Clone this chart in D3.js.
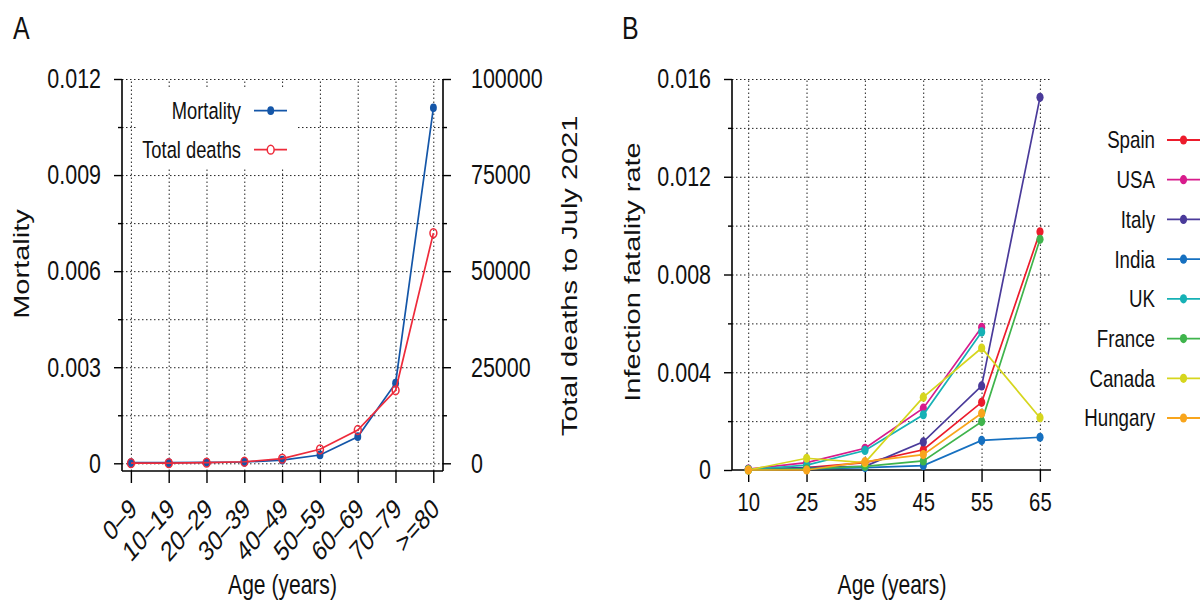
<!DOCTYPE html>
<html>
<head>
<meta charset="utf-8">
<script src="https://cdn.jsdelivr.net/npm/d3@7"></script>
<style>
  body { margin: 0; background: #fff; }
  svg { display: block; }
</style>
</head>
<body>
<svg id="chart" width="1204" height="602"></svg>
<script>
// panel A data
const ageGroups = ["0–9", "10–19", "20–29", "30–39", "40–49", "50–59", "60–69", "70–79", ">=80"];
const mortality = [0.00002, 0.00002, 0.00003, 0.00004, 0.0001, 0.00026, 0.00083, 0.0025, 0.0111];
const totalDeaths = [20, 40, 150, 400, 1200, 3640, 8670, 19000, 59900];
const mortTicks = [0, 0.003, 0.006, 0.009, 0.012];
const mortMinor = [0.0015, 0.0045, 0.0075, 0.0105];
const deathTicks = [0, 25000, 50000, 75000, 100000];
const deathMinor = [12500, 37500, 62500, 87500];

// panel B data
const ifrAges = ["10", "25", "35", "45", "55", "65"];
const countries = ["Spain", "USA", "Italy", "India", "UK", "France", "Canada", "Hungary"];
const countryColors = ["#ec1c2c", "#d81b8c", "#4a3a9a", "#1670c0", "#16b1b5", "#3fb44c", "#d6d61e", "#f8a51c"];
const spainIfr = [0.00002, 0.0001, 0.0003, 0.00083, 0.00277, 0.00975];
const usaIfr = [0.00004, 0.0003, 0.00089, 0.00253, 0.00584, null];
const italyIfr = [0.00003, 0.0001, 0.00015, 0.00115, 0.00344, 0.01525];
const indiaIfr = [0.0, 0.00005, 0.0001, 0.00018, 0.00121, 0.00134];
const ukIfr = [0.00002, 0.0002, 0.0008, 0.00226, 0.00565, null];
const franceIfr = [0.0, 0.00005, 0.00015, 0.00037, 0.00198, 0.00944];
const canadaIfr = [0.0, 0.00048, 0.0003, 0.00298, 0.00499, 0.00214];
const hungaryIfr = [0.0, 0.0, 0.00034, 0.00063, 0.00232, null];
const ifrSeries = [spainIfr, usaIfr, italyIfr, indiaIfr, ukIfr, franceIfr, canadaIfr, hungaryIfr];
const ifrTicks = [0, 0.004, 0.008, 0.012, 0.016];
const ifrMinor = [0.002, 0.006, 0.010, 0.014];

const FONT = "'Liberation Sans', Arial, Helvetica, sans-serif";
// the whole figure is squeezed horizontally, like the source
const SX = 0.78;
const K = 1 / SX;

const svg = d3.select("#chart");
svg.append("rect").attr("width", 1204).attr("height", 602).attr("fill", "#fff");
const root = svg.append("g").attr("transform", `scale(${SX},1)`).attr("font-family", FONT);

function dotted(sel) {
    sel.selectAll("line")
        .attr("stroke", "#222")
        .attr("stroke-width", 1)
        .attr("stroke-dasharray", "1.5 2.5")
        .attr("vector-effect", "non-scaling-stroke");
    sel.select(".domain").remove();
}

function styleAxis(sel, size) {
    sel.attr("font-family", FONT).attr("font-size", size);
    sel.select(".domain").remove();
    sel.selectAll("line").attr("stroke", "#000").attr("stroke-width", 1.4).attr("vector-effect", "non-scaling-stroke");
    sel.selectAll("text").attr("fill", "#111");
}

function solid(g, x1, y1, x2, y2) {
    g.append("line")
        .attr("x1", x1).attr("y1", y1).attr("x2", x2).attr("y2", y2)
        .attr("stroke", "#000").attr("stroke-width", 1.6)
        .attr("vector-effect", "non-scaling-stroke");
}

// ---------------- panel A ----------------
const A = root.append("g");
const xA = d3.scalePoint().domain(ageGroups).range([131 * K, 433.4 * K]);
const yMort = d3.scaleLinear().domain([0, 0.012]).range([463.3, 79]);
const yDeaths = d3.scaleLinear().domain([0, 100000]).range([463.3, 79]);
const aLeft = 122 * K, aRight = 443 * K, aBottom = 471, aTop = 79;

A.append("g").attr("transform", `translate(${aLeft},0)`)
    .call(d3.axisLeft(yMort).tickValues(mortTicks.concat(mortMinor)).tickSize(-(aRight - aLeft)).tickFormat(""))
    .call(dotted);
A.append("g").attr("transform", `translate(0,${aBottom})`)
    .call(d3.axisBottom(xA).tickSize(-(aBottom - aTop)).tickFormat(""))
    .call(dotted);

// legend box hides the grid under it
A.append("rect")
    .attr("x", 136 * K).attr("y", 89).attr("width", (297 - 136) * K).attr("height", 79)
    .attr("fill", "#fff");

A.append("g").attr("transform", `translate(${aLeft},0)`)
    .call(d3.axisLeft(yMort).tickValues(mortTicks).tickSize(8 * K).tickPadding(13 * K)
        .tickFormat(d => d === 0 ? "0" : d3.format(".3f")(d)))
    .call(styleAxis, 27.5);
A.append("g").attr("transform", `translate(${aLeft},0)`)
    .call(d3.axisLeft(yMort).tickValues(mortMinor).tickSize(4 * K).tickFormat(""))
    .call(styleAxis, 27.5);
A.append("g").attr("transform", `translate(${aRight},0)`)
    .call(d3.axisRight(yDeaths).tickValues(deathTicks).tickSize(8 * K).tickPadding(20 * K)
        .tickFormat(d3.format("d")))
    .call(styleAxis, 27.5);
A.append("g").attr("transform", `translate(${aRight},0)`)
    .call(d3.axisRight(yDeaths).tickValues(deathMinor).tickSize(4 * K).tickFormat(""))
    .call(styleAxis, 27.5);
const axA = A.append("g").attr("transform", `translate(0,${aBottom})`)
    .call(d3.axisBottom(xA).tickSize(12).tickPadding(0))
    .call(styleAxis, 28);
axA.selectAll("text")
    .attr("text-anchor", "end")
    .attr("y", null).attr("dy", null)
    .attr("transform", `translate(${7 * K},40) rotate(-42)`);

solid(A, aLeft, aTop, aLeft, aBottom);
solid(A, aRight, aTop, aRight, aBottom);
solid(A, aLeft, aBottom, aRight, aBottom);

const mortLine = d3.line().x((d, i) => xA(ageGroups[i])).y(d => yMort(d));
const deathLine = d3.line().x((d, i) => xA(ageGroups[i])).y(d => yDeaths(d));
const mortColor = "#1456a8", deathColor = "#ee2b3b";

A.append("path").datum(mortality).attr("d", mortLine)
    .attr("fill", "none").attr("stroke", mortColor).attr("stroke-width", 1.7).attr("vector-effect", "non-scaling-stroke");
A.selectAll(".mdot").data(mortality).join("circle")
    .attr("cx", (d, i) => xA(ageGroups[i])).attr("cy", d => yMort(d)).attr("r", 4.4)
    .attr("fill", mortColor);
A.append("path").datum(totalDeaths).attr("d", deathLine)
    .attr("fill", "none").attr("stroke", deathColor).attr("stroke-width", 1.7).attr("vector-effect", "non-scaling-stroke");
A.selectAll(".ddot").data(totalDeaths).join("circle")
    .attr("cx", (d, i) => xA(ageGroups[i])).attr("cy", d => yDeaths(d)).attr("r", 4.4)
    .attr("fill", "none").attr("stroke", deathColor).attr("stroke-width", 1.5).attr("vector-effect", "non-scaling-stroke");

// legend A
const legA = [
    {name: "Mortality", color: mortColor, filled: true, y: 110.7},
    {name: "Total deaths", color: deathColor, filled: false, y: 149.7},
];
legA.forEach(e => {
    A.append("text").attr("x", 241 * K).attr("y", e.y).attr("dy", "0.35em")
        .attr("text-anchor", "end").attr("font-size", 23.5).attr("fill", "#111").text(e.name);
    A.append("line").attr("x1", 254 * K).attr("x2", 287 * K).attr("y1", e.y).attr("y2", e.y)
        .attr("stroke", e.color).attr("stroke-width", 1.7).attr("vector-effect", "non-scaling-stroke");
    A.append("circle").attr("cx", 270.7 * K).attr("cy", e.y).attr("r", 4.4)
        .attr("fill", e.filled ? e.color : "#fff").attr("stroke", e.filled ? "none" : e.color)
        .attr("stroke-width", 1.5).attr("vector-effect", "non-scaling-stroke");
});

A.append("text").attr("x", 13 * K).attr("y", 39).attr("font-size", 32).attr("fill", "#111").text("A");
A.append("text").attr("transform", `translate(${29 * K},264) rotate(-90)`)
    .attr("text-anchor", "middle").attr("font-size", 29).attr("fill", "#111").text("Mortality");
A.append("text").attr("transform", `translate(${577 * K},276) rotate(-90)`)
    .attr("text-anchor", "middle").attr("font-size", 29).attr("fill", "#111").text("Total deaths to July 2021");
A.append("text").attr("x", 282.5 * K).attr("y", 594).attr("text-anchor", "middle")
    .attr("font-size", 27).attr("fill", "#111").text("Age (years)");

// ---------------- panel B ----------------
const B = root.append("g");
const xB = d3.scalePoint().domain(ifrAges).range([748.3 * K, 1040 * K]);
const yB = d3.scaleLinear().domain([0, 0.016]).range([470, 79]);
const bLeft = 732 * K, bRight = 1051 * K, bBottom = 470, bTop = 79;

B.append("g").attr("transform", `translate(${bLeft},0)`)
    .call(d3.axisLeft(yB).tickValues(ifrTicks.concat(ifrMinor).filter(d => d > 0)).tickSize(-(bRight - bLeft)).tickFormat(""))
    .call(dotted);
B.append("g").attr("transform", `translate(0,${bBottom})`)
    .call(d3.axisBottom(xB).tickSize(-(bBottom - bTop)).tickFormat(""))
    .call(dotted);

B.append("g").attr("transform", `translate(${bLeft},0)`)
    .call(d3.axisLeft(yB).tickValues(ifrTicks).tickSize(8 * K).tickPadding(13 * K)
        .tickFormat(d => d === 0 ? "0" : d3.format(".3f")(d)))
    .call(styleAxis, 27.5);
B.append("g").attr("transform", `translate(${bLeft},0)`)
    .call(d3.axisLeft(yB).tickValues(ifrMinor).tickSize(4 * K).tickFormat(""))
    .call(styleAxis, 27.5);
B.append("g").attr("transform", `translate(0,${bBottom})`)
    .call(d3.axisBottom(xB).tickSize(12).tickPadding(11))
    .call(styleAxis, 26);

solid(B, bLeft, bTop, bLeft, bBottom);
solid(B, bLeft, bBottom, bRight, bBottom);

const ifrLine = d3.line().defined(d => d !== null).x((d, i) => xB(ifrAges[i])).y(d => yB(d));
ifrSeries.forEach((vals, s) => {
    const c = countryColors[s];
    B.append("path").datum(vals).attr("d", ifrLine)
        .attr("fill", "none").attr("stroke", c).attr("stroke-width", 1.7).attr("vector-effect", "non-scaling-stroke");
    B.selectAll(null).data(vals.map((v, i) => ({v, i})).filter(d => d.v !== null)).join("circle")
        .attr("cx", d => xB(ifrAges[d.i])).attr("cy", d => yB(d.v)).attr("r", 4.6)
        .attr("fill", c);
});

// legend B
const legY = d3.scalePoint().domain(countries).range([140, 418]);
countries.forEach((name, s) => {
    const y = legY(name);
    B.append("text").attr("x", 1155 * K).attr("y", y).attr("dy", "0.35em")
        .attr("text-anchor", "end").attr("font-size", 24).attr("fill", "#111").text(name);
    B.append("line").attr("x1", 1167 * K).attr("x2", 1200 * K).attr("y1", y).attr("y2", y)
        .attr("stroke", countryColors[s]).attr("stroke-width", 1.8).attr("vector-effect", "non-scaling-stroke");
    B.append("circle").attr("cx", 1183.5 * K).attr("cy", y).attr("r", 4.6).attr("fill", countryColors[s]);
});

B.append("text").attr("x", 622 * K).attr("y", 39).attr("font-size", 32).attr("fill", "#111").text("B");
B.append("text").attr("transform", `translate(${640 * K},272) rotate(-90)`)
    .attr("text-anchor", "middle").attr("font-size", 29).attr("fill", "#111").text("Infection fatality rate");
B.append("text").attr("x", 892 * K).attr("y", 594).attr("text-anchor", "middle")
    .attr("font-size", 27).attr("fill", "#111").text("Age (years)");
</script>
</body>
</html>
